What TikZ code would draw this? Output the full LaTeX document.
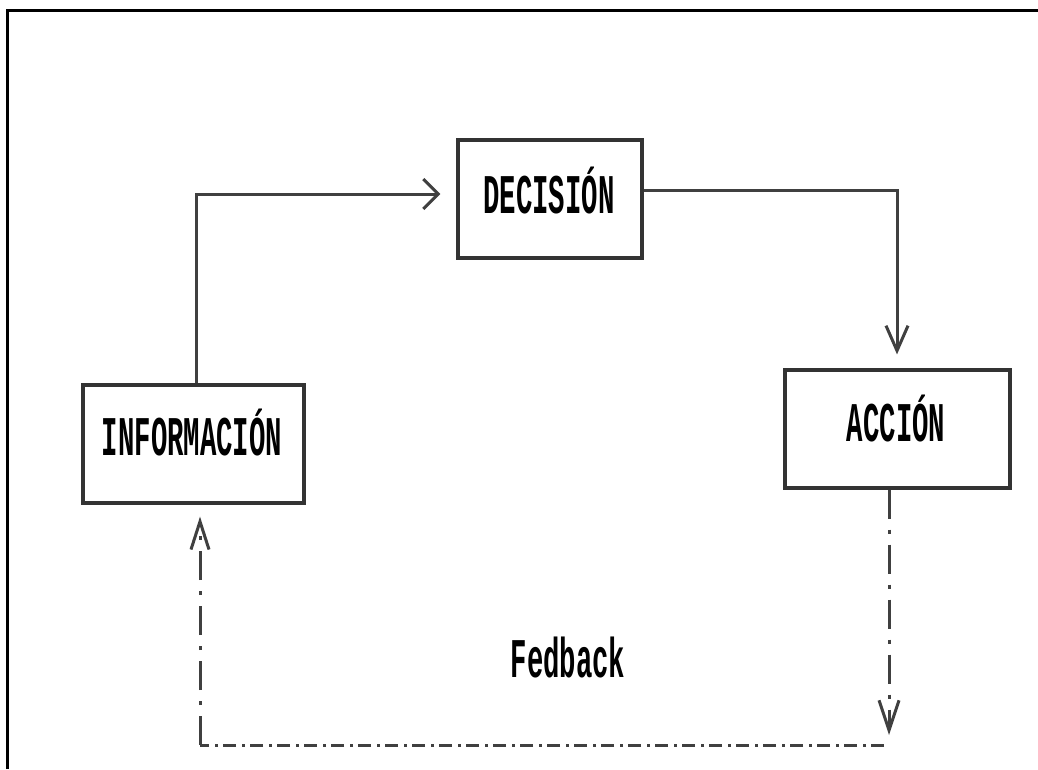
\documentclass[tikz,border=0pt]{standalone}
\usepackage{fontspec}
\usepackage{graphicx}
\usetikzlibrary{arrows.meta}
\newfontfamily\boxfont{Liberation Mono}
% tall, narrow monospaced lettering
\newcommand{\tallword}[1]{\scalebox{1}[2.05]{\boxfont\bfseries #1}}

\begin{document}
\begin{tikzpicture}[x=1pt, y=-1pt,
  frameline/.style={line width=3pt, black},
  blockbox/.style={draw=black!80, line width=3.2pt, rectangle, inner sep=0pt,
                   minimum height=118pt},
  blocklabel/.style={inner sep=0pt, anchor=base, font=\fontsize{27.3pt}{30pt}\selectfont},
  link/.style={draw=black!75, line width=3pt, line join=miter},
  hbarb/.style={-{Straight Barb[length=15pt, width=30pt]}},
  vbarb/.style={-{Straight Barb[length=25pt, width=22pt]}},
  fbvert/.style={link, dash pattern=on 29pt off 11pt on 4pt off 11pt},
  fbhoriz/.style={link, dash pattern=on 13pt off 5pt on 3pt off 6pt},
]
  % canvas
  \useasboundingbox (0,0) rectangle (1038,769);
  \fill[white] (0,0) rectangle (1038,769);

  % partial frame (top and left edges)
  \draw[frameline] (7,769) -- (7,10) -- (1038,10);

  % blocks
  \node[blockbox, minimum width=184pt] (dec) at (550,199) {};
  \node[blockbox, minimum width=221pt] (inf) at (193.5,444) {};
  \node[blockbox, minimum width=225pt] (acc) at (897.5,429) {};

  \node[blocklabel] (dect) at (549,213) {\tallword{DECISIÓN}};
  \node[blocklabel] (inft) at (192,455) {\tallword{INFORMACIÓN}};
  \node[blocklabel] (acct) at (896,441) {\tallword{ACCIÓN}};
  \node[blocklabel] (fbt)  at (568,677) {\tallword{Fedback}};

  % routing points
  \coordinate (c1) at (196,194);
  \coordinate (c2) at (897,190);
  \coordinate (fb1) at (889,735);
  \coordinate (fb2) at (884,745);
  \coordinate (fb3) at (200,745);

  % main flow
  \draw[link, hbarb, shorten >=16pt] (inf.north -| c1) -- (c1) -- (dec.west |- c1);
  \draw[link, vbarb, shorten >=14pt] (dec.east |- c2) -- (c2) -- (acc.north -| c2);

  % feedback loop
  \draw[fbvert, -{Straight Barb[length=30pt, width=20pt]}] (acc.south -| fb1) -- (fb1);
  \draw[fbhoriz] (fb2) -- (fb3);
  \draw[fbvert, -{Straight Barb[length=28pt, width=18pt]}, shorten >=12pt] (fb3) -- (inf.south -| fb3);
\end{tikzpicture}
\end{document}
